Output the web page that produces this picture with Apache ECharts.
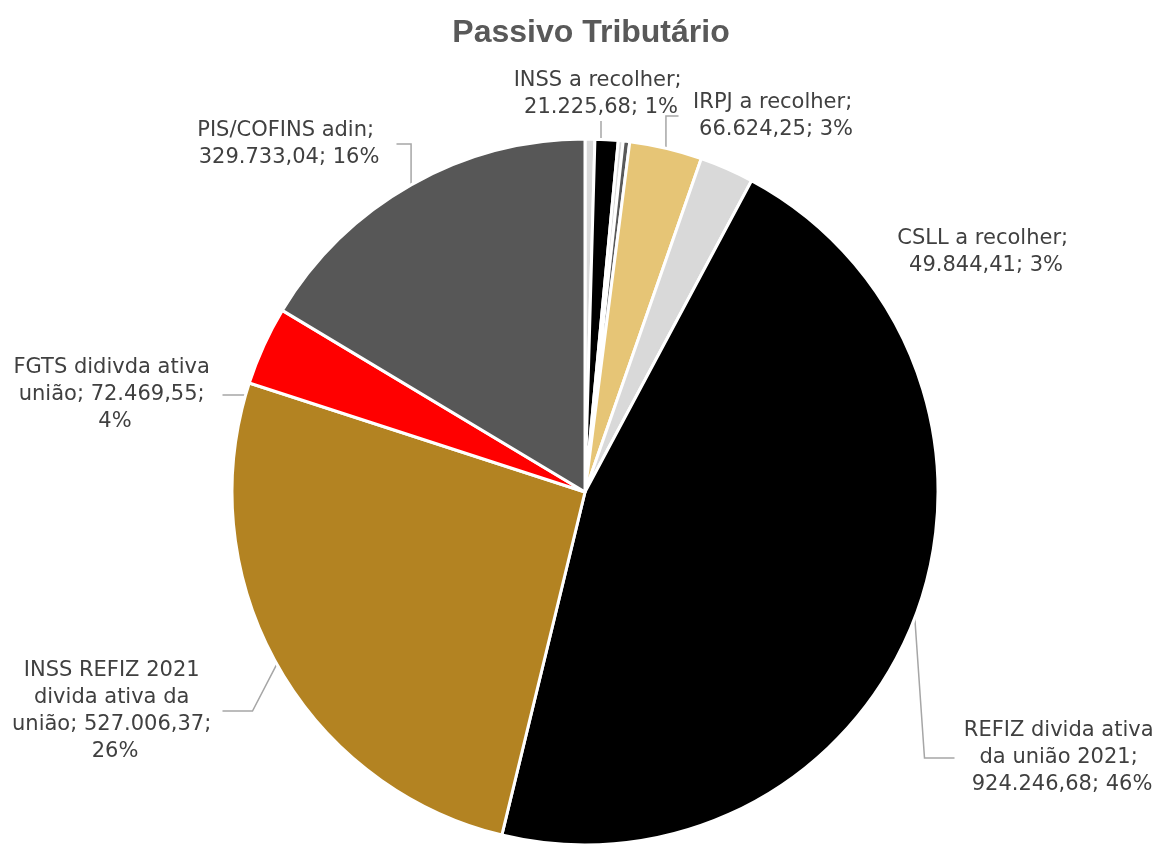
<!DOCTYPE html>
<html>
<head>
<meta charset="utf-8">
<script src="https://cdn.jsdelivr.net/npm/echarts@6/dist/echarts.min.js"></script>
<style>
html,body{margin:0;padding:0;background:#fff;}
#chart{width:1160px;height:846px;}
</style>
</head>
<body>
<div id="chart"></div>
<script>
// ---- data ----
const categories = [
  "Outros (a)",
  "INSS a recolher",
  "Outros (b)",
  "Outros (c)",
  "IRPJ a recolher",
  "CSLL a recolher",
  "REFIZ divida ativa da união 2021",
  "INSS REFIZ 2021 divida ativa da união",
  "FGTS didivda ativa união",
  "PIS/COFINS adin"
];
const values = [9000, 21225.68, 4500, 6000, 66624.25, 49844.41, 924246.68, 527006.37, 72469.55, 329733.04];
const labelled = [false, true, false, false, true, true, true, true, true, true];

// ---- presentation ----
const colors = ["#D9D9D9", "#000000", "#D9D9D9", "#595959", "#E6C576", "#D9D9D9", "#000000", "#B38322", "#FF0000", "#575757"];
// label block centre positions and wrap widths (layout only)
const labelPos = {
  1: [601, 94, 195],
  4: [776, 116, 195],
  5: [986, 252, 195],
  6: [1062, 758, 215],
  7: [115, 711, 215],
  8: [115, 395, 215],
  9: [289, 144, 215]
};
const noLine = {5: true};

function fmtBR(v) {
  const parts = v.toFixed(2).split('.');
  const intPart = parts[0].replace(/\B(?=(\d{3})+(?!\d))/g, '.');
  return intPart + ',' + parts[1];
}

const data = categories.map((name, i) => ({
  name: name,
  value: values[i],
  itemStyle: {color: colors[i]},
  label: labelled[i] ? {show: true, width: labelPos[i][2]} : {show: false},
  labelLine: {show: labelled[i] && !noLine[i]}
}));

const chart = echarts.init(document.getElementById('chart'), null, {renderer: 'canvas'});
chart.setOption({
  animation: false,
  backgroundColor: '#ffffff',
  title: {
    text: 'Passivo Tributário',
    left: 586,
    textAlign: 'center',
    top: 12,
    textStyle: {fontFamily: 'Liberation Sans', fontSize: 32, fontWeight: 'bold', color: '#595959'}
  },
  series: [{
    type: 'pie',
    center: [585, 492],
    radius: [0, 353],
    startAngle: 90,
    clockwise: true,
    percentPrecision: 0,
    avoidLabelOverlap: false,
    itemStyle: {borderColor: '#ffffff', borderWidth: 3},
    label: {
      position: 'outside',
      fontFamily: 'DejaVu Sans',
      fontSize: 21,
      lineHeight: 27,
      color: '#404040',
      align: 'center',
      overflow: 'break',
      formatter: p => p.name + '; ' + fmtBR(p.value) + '; ' + p.percent + '%'
    },
    labelLine: {
      show: true,
      lineStyle: {color: '#A6A6A6', width: 1.5}
    },
    labelLayout: function (params) {
      const pos = labelPos[params.dataIndex];
      if (!pos) return {};
      return {x: pos[0], y: pos[1], align: 'center', verticalAlign: 'middle'};
    },
    emphasis: {disabled: true},
    data: data
  }]
});
</script>
</body>
</html>
